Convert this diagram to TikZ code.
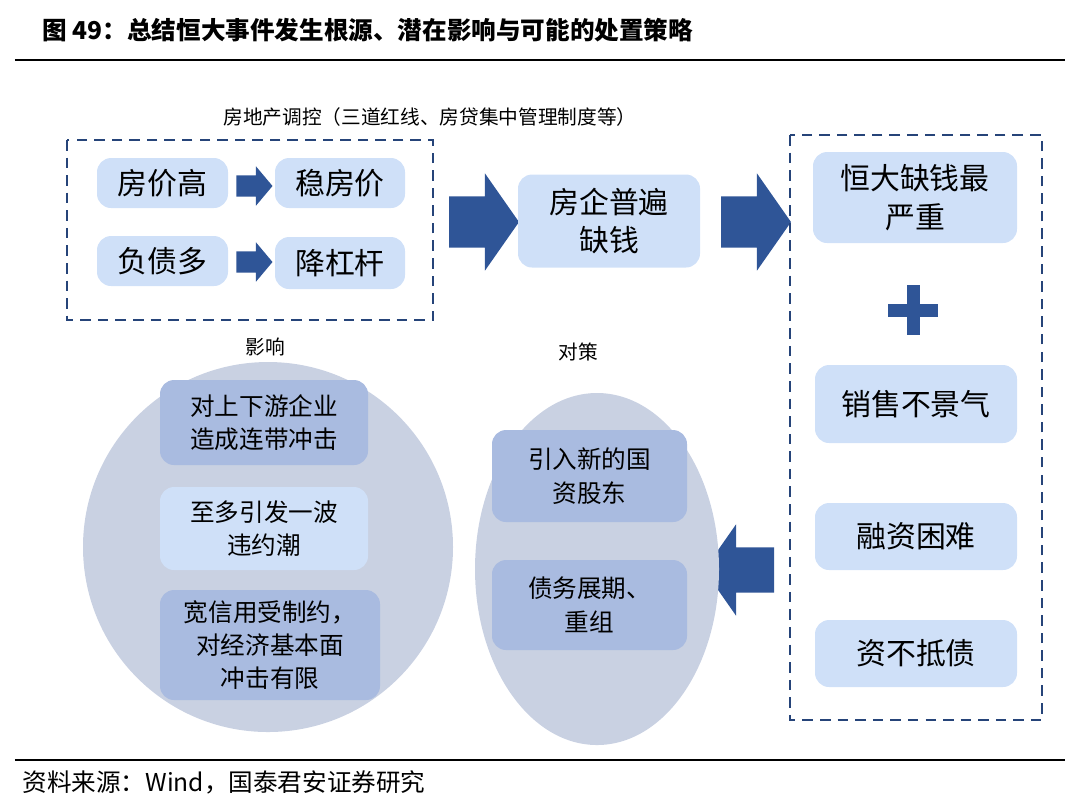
\documentclass[tikz,border=0pt]{standalone}
\usepackage{fontspec}
\setmainfont{Noto Sans CJK SC}
\usetikzlibrary{shapes.arrows,shapes.geometric,positioning}
\definecolor{boxlight}{HTML}{CFE0F8}
\definecolor{boxdark}{HTML}{A9BBE0}
\definecolor{circfill}{HTML}{C9D1E2}
\definecolor{arrowblue}{HTML}{2F5597}
\tikzset{
  box/.style={rounded corners=4pt,fill=boxlight,align=center,font=\fontsize{8.5}{11}\selectfont,inner sep=0pt},
  dbox/.style={box,fill=boxdark,font=\fontsize{7}{9.5}\selectfont},
  lbox/.style={box,font=\fontsize{7}{9.5}\selectfont},
  bigarrow/.style={single arrow,fill=arrowblue,draw=none,minimum height=0.7cm,inner xsep=0pt,inner ysep=0.25cm,single arrow head extend=0.23cm,single arrow tip angle=110},
  smallarrow/.style={single arrow,fill=arrowblue,draw=none,minimum height=0.36cm,inner xsep=0pt,inner ysep=0.1cm,single arrow head extend=0.09cm,single arrow tip angle=100},
  dashbox/.style={draw=arrowblue!80!black,densely dashed,line width=0.6pt},
  label/.style={font=\fontsize{5.6}{7}\selectfont}
}
\begin{document}
\begin{tikzpicture}
\useasboundingbox (0,0) rectangle (10.8,-8.1);
% title
\node[anchor=west,font=\bfseries\fontsize{7}{9}\selectfont] (title) at (0.3,-0.3) {图 49：总结恒大事件发生根源、潜在影响与可能的处置策略};
\draw[line width=0.6pt] (0.15,-0.6) -- (10.65,-0.6);
% left group
\node[label] (ctrl) at (4.3,-1.17) {房地产调控（三道红线、房贷集中管理制度等）};
\draw[dashbox] (0.67,-1.4) rectangle (4.33,-3.2);
\node[box,minimum width=1.31cm,minimum height=0.5cm] (pgao) at (1.625,-1.83) {房价高};
\node[box,minimum width=1.30cm,minimum height=0.5cm] (wen) at (3.4,-1.83) {稳房价};
\node[box,minimum width=1.31cm,minimum height=0.5cm] (fzd) at (1.625,-2.61) {负债多};
\node[box,minimum width=1.30cm,minimum height=0.52cm] (jgg) at (3.4,-2.63) {降杠杆};
\node[smallarrow] (a1) at (2.5,-1.86) {};
\node[smallarrow] (a2) at (2.5,-2.62) {};
\node[bigarrow] (big1) at (4.75,-2.22) {};
\node[box,minimum width=1.82cm,minimum height=0.93cm] (qy) at (6.09,-2.21) {房企普遍\\缺钱};
\node[bigarrow] (big2) at (7.47,-2.22) {};
% right group
\draw[dashbox] (7.9,-1.35) rectangle (10.42,-7.2);
\node[box,minimum width=2.04cm,minimum height=0.91cm] (hd) at (9.15,-1.975) {恒大缺钱最\\严重};
\node[fill=arrowblue,minimum width=0.5cm,minimum height=0.13cm,inner sep=0pt] (plush) at (9.13,-3.1) {};
\node[fill=arrowblue,minimum width=0.13cm,minimum height=0.5cm,inner sep=0pt] (plusv) at (9.13,-3.1) {};
\node[box,minimum width=2.02cm,minimum height=0.78cm] (xs) at (9.16,-4.04) {销售不景气};
\node[box,minimum width=2.02cm,minimum height=0.67cm] (rz) at (9.16,-5.365) {融资困难};
\node[box,minimum width=2.02cm,minimum height=0.67cm] (zb) at (9.16,-6.535) {资不抵债};
\node[bigarrow,shape border rotate=180,inner ysep=0.22cm] (big3) at (7.47,-5.7) {};
% impact
\node[label] (yx) at (2.65,-3.47) {影响};
\node[circle,fill=circfill,minimum size=3.7cm,inner sep=0pt] (c1) at (2.68,-5.47) {};
\node[dbox,minimum width=2.08cm,minimum height=0.85cm] (i1) at (2.64,-4.225) {对上下游企业\\造成连带冲击};
\node[lbox,minimum width=2.08cm,minimum height=0.83cm] (i2) at (2.64,-5.285) {至多引发一波\\违约潮};
\node[dbox,minimum width=2.2cm,minimum height=1.1cm] (i3) at (2.7,-6.45) {宽信用受制约，\\对经济基本面\\冲击有限};
% policy
\node[label] (dc) at (5.78,-3.52) {对策};
\node[ellipse,fill=circfill,minimum width=2.44cm,minimum height=3.52cm,inner sep=0pt] (c2) at (5.97,-5.69) {};
\node[dbox,minimum width=1.95cm,minimum height=0.92cm] (p1) at (5.895,-4.76) {引入新的国\\资股东};
\node[dbox,minimum width=1.95cm,minimum height=0.9cm] (p2) at (5.895,-6.05) {债务展期、\\重组};
% source
\draw[line width=0.6pt] (0.15,-7.6) -- (10.65,-7.6);
\node[anchor=west,font=\fontsize{7}{9}\selectfont] (src) at (0.1,-7.82) {资料来源：Wind，国泰君安证券研究};
\end{tikzpicture}
\end{document}
